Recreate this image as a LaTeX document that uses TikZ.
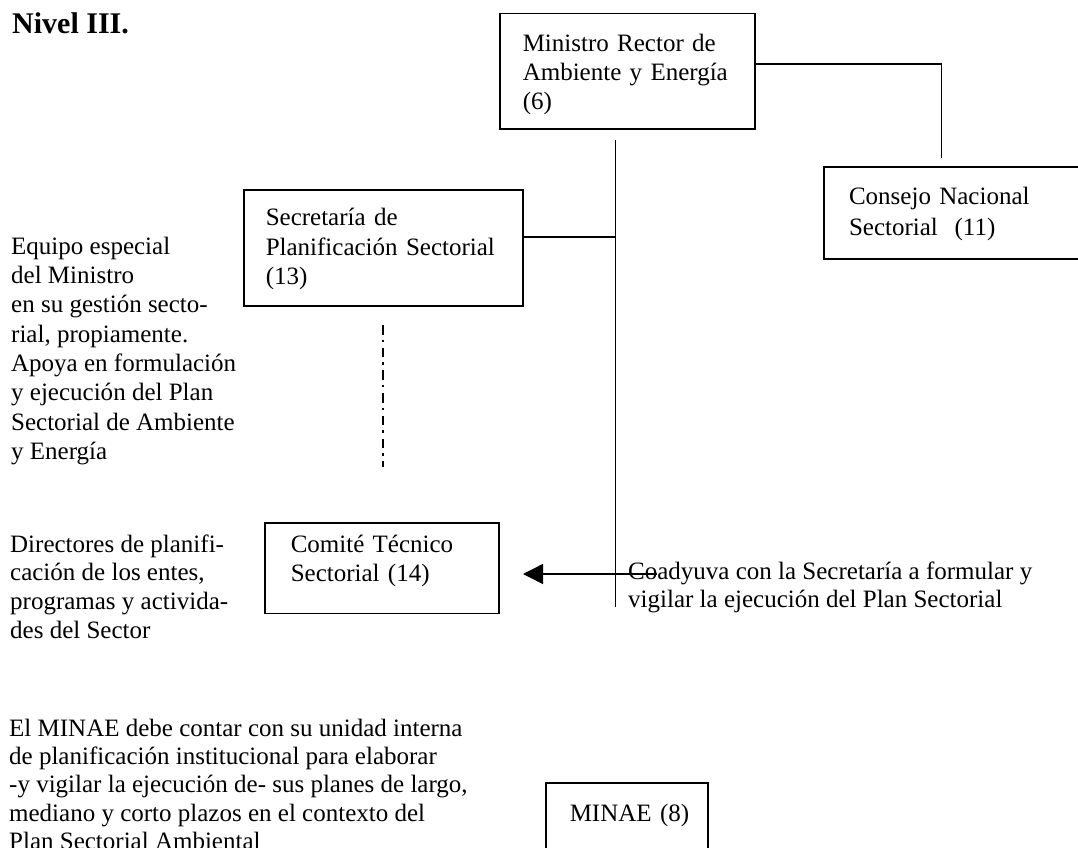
\documentclass[tikz,border=0pt]{standalone}
\usepackage{fontspec}
\setmainfont{Liberation Serif}
\usetikzlibrary{arrows.meta}
\newcommand\firstht[1]{\rule{0pt}{#1bp}}
\newcommand\lastdp[1]{\rule[-#1bp]{0pt}{#1bp}}
\begin{document}
\begin{tikzpicture}[x=1bp,y=-1bp,
  box/.style={draw, line width=1.5bp, rectangle, anchor=north west, align=left,
    inner ysep=0pt},
  txt/.style={anchor=north west, inner sep=0pt, align=left},
  link/.style={line width=1.5bp},
  dashdot/.style={line width=2bp, dash pattern=on 9.5bp off 5bp on 2.5bp off 5.7bp},
]
\useasboundingbox (0,0) rectangle (1078,848);

% title
\node[anchor=base west, inner sep=0pt, font=\fontsize{30bp}{34bp}\selectfont\bfseries]
  (title) at (12,33) {Nivel III.};

% boxes
\node[box, inner xsep=23bp, text width=209bp, font=\fontsize{25bp}{29bp}\selectfont]
  (min) at (499,12.7)
  {\firstht{37.8}Ministro Rector de\\Ambiente y Energía\\(6)\lastdp{19.8}};

\node[box, inner xsep=22bp, text width=235bp, font=\fontsize{25bp}{29.5bp}\selectfont]
  (sec) at (243,189)
  {\firstht{36}Secretaría de\\Planificación Sectorial\\(13)\lastdp{21}};

\node[box, inner xsep=25bp, text width=210bp, font=\fontsize{25bp}{31bp}\selectfont]
  (cons) at (823.3,166)
  {\firstht{37.5}Consejo Nacional\\Sectorial~ (11)\lastdp{23.8}};

\node[box, inner xsep=26bp, text width=182bp, font=\fontsize{25bp}{28.5bp}\selectfont]
  (com) at (264,522)
  {\firstht{30}Comité Técnico\\Sectorial (14)\lastdp{32}};

\node[box, inner xsep=24bp, text width=114bp, font=\fontsize{25bp}{29bp}\selectfont]
  (minae) at (545,782.3)
  {\firstht{38.5}\mbox{MINAE (8)}\lastdp{90}};

% free texts
\node[txt, font=\fontsize{25bp}{29.3bp}\selectfont] (equipo) at (11,234)
  {\firstht{20}Equipo especial\\del Ministro\\en su gestión secto-\\rial, propiamente.\\Apoya en formulación\\y ejecución del Plan\\Sectorial de Ambiente\\y Energía};

\node[txt, font=\fontsize{25bp}{28.7bp}\selectfont] (dir) at (10,532)
  {\firstht{20}Directores de planifi-\\cación de los entes,\\programas y activida-\\des del Sector};

\node[txt, font=\fontsize{25bp}{28.3bp}\selectfont] (coad) at (628,559.3)
  {\firstht{20}Coadyuva con la Secretaría a formular y\\vigilar la ejecución del Plan Sectorial};

\node[txt, font=\fontsize{25bp}{28.3bp}\selectfont] (minaetxt) at (9,716)
  {\firstht{20}El MINAE debe contar con su unidad interna\\de planificación institucional para elaborar\\-y vigilar la ejecución de- sus planes de largo,\\mediano y corto plazos en el contexto del\\Plan Sectorial Ambiental};

% connectors
\coordinate (vtop) at (615.5,140);
\coordinate (vbot) at (615.5,607);
\coordinate (vjoin) at (615.5,237);
\coordinate (consup) at (941.7,158);
\coordinate (dtop) at (382.7,325);
\coordinate (dbot) at (382.7,467);
\coordinate (astart) at (657,574);
\coordinate (atip) at (523,574);

\draw[link] (min.north east) ++(0,51.3) -| (consup);
\draw[link] (vtop) -- (vbot);
\draw[link] (sec.east |- vjoin) -- (vjoin);
\draw[dashdot] (dtop) -- (dbot);
\draw[link, -{Triangle[length=20bp,width=20bp]}] (astart) -- (atip);
\end{tikzpicture}
\end{document}
